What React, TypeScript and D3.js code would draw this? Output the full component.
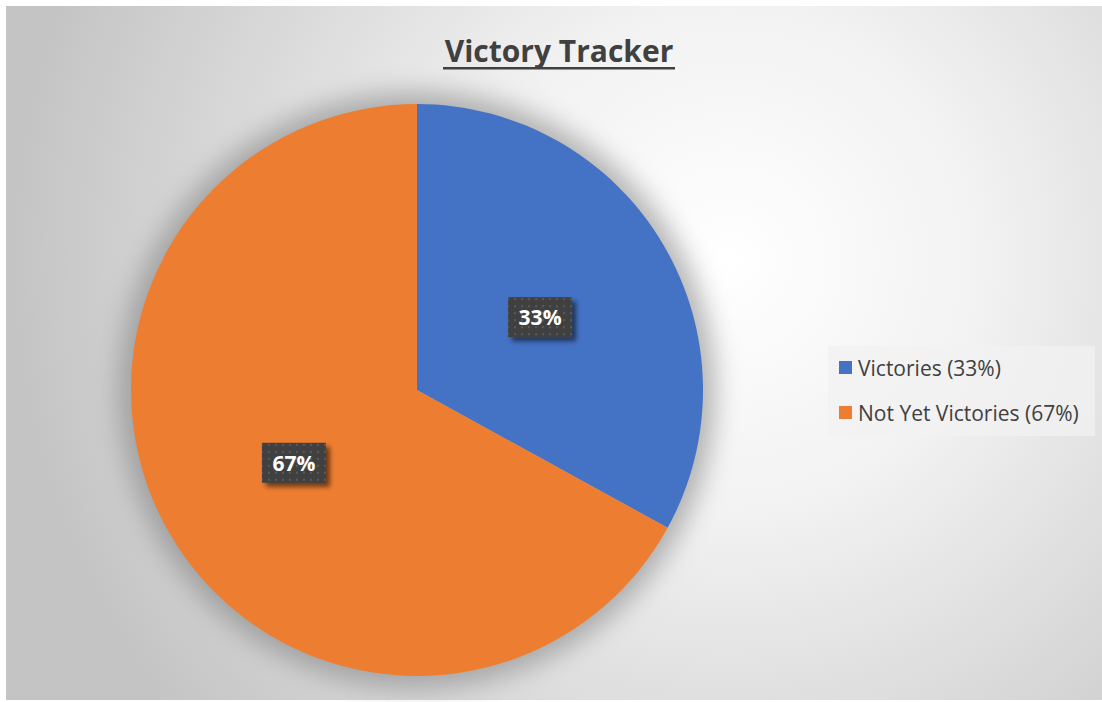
import React from 'react';
import * as d3 from 'd3';

const categories = ['Victories', 'Not Yet Victories'];
const values = [33, 67];
const colors = ['#4472c4', '#ed7d31'];
const chartTitle = 'Victory Tracker';

const W = 1102;
const H = 702;

const App = () => {
  const cx = 417;
  const cy = 390;
  const radius = 286;

  const pie = d3.pie<number>().sort(null).value(d => d);
  const arcs = pie(values);
  const arcGen = d3.arc<d3.PieArcDatum<number>>().innerRadius(0).outerRadius(radius);
  const labelArc = d3.arc<d3.PieArcDatum<number>>().innerRadius(radius * 0.5).outerRadius(radius * 0.5);
  const total = d3.sum(values);
  const fmt = (v: number) => `${Math.round((v / total) * 100)}%`;

  const font = "'Open Sans', 'Noto Sans', sans-serif";

  return (
    <svg width={W} height={H} style={{ position: 'absolute', left: 0, top: 0 }}>
      <defs>
        <radialGradient id="bg" gradientUnits="userSpaceOnUse" cx={730} cy={260} r={720}>
          <stop offset="0" stopColor="#ffffff" />
          <stop offset="0.35" stopColor="#f2f2f2" />
          <stop offset="1" stopColor="#c4c4c4" />
        </radialGradient>
        <filter id="pieShadow" x="-30%" y="-30%" width="160%" height="160%">
          <feGaussianBlur stdDeviation="13" />
        </filter>
        <filter id="boxShadow" x="-30%" y="-30%" width="170%" height="170%">
          <feGaussianBlur in="SourceAlpha" stdDeviation="2.5" />
          <feOffset dx="4" dy="4" result="b" />
          <feComponentTransfer>
            <feFuncA type="linear" slope="0.55" />
          </feComponentTransfer>
          <feMerge>
            <feMergeNode />
            <feMergeNode in="SourceGraphic" />
          </feMerge>
        </filter>
        <pattern id="dots" patternUnits="userSpaceOnUse" width="7" height="7">
          <rect width="7" height="7" fill="#404040" />
          <rect x="2" y="2" width="2" height="2" fill="#5a5a5a" />
        </pattern>
      </defs>

      <rect x={6} y={6} width={W - 6} height={H - 8} fill="url(#bg)" />

      <text
        x={559}
        y={62}
        textAnchor="middle"
        fontFamily={font}
        fontWeight="bold"
        fontSize={30}
        fill="#404040"
      >
        {chartTitle}
      </text>
      <rect x={443} y={67} width={232} height={2.5} fill="#404040" />

      <g transform={`translate(${cx},${cy})`}>
        <circle r={radius + 12} fill="#7a7a7a" opacity={0.55} filter="url(#pieShadow)" />
        {arcs.map((a, i) => (
          <path key={categories[i]} d={arcGen(a) ?? ''} fill={colors[i]} />
        ))}
        {arcs.map((a, i) => {
          const [lx, ly] = labelArc.centroid(a);
          return (
            <g key={'l' + i} transform={`translate(${lx},${ly})`}>
              <rect x={-32} y={-20} width={64} height={40} fill="url(#dots)" filter="url(#boxShadow)" />
              <text
                y={8}
                textAnchor="middle"
                fontFamily={font}
                fontWeight="bold"
                fontSize={21}
                fill="#ffffff"
              >
                {fmt(values[i])}
              </text>
            </g>
          );
        })}
      </g>

      <rect x={828} y={346} width={267} height={90} fill="#f2f2f2" opacity={0.75} />
      {categories.map((c, i) => (
        <g key={c} transform={`translate(839,${368 + i * 45})`}>
          <rect x={0} y={-7} width={13} height={13} fill={colors[i]} />
          <text x={19} y={7.5} fontFamily={font} fontSize={21} fill="#404040">
            {`${c} (${fmt(values[i])})`}
          </text>
        </g>
      ))}
    </svg>
  );
};

export default App;
